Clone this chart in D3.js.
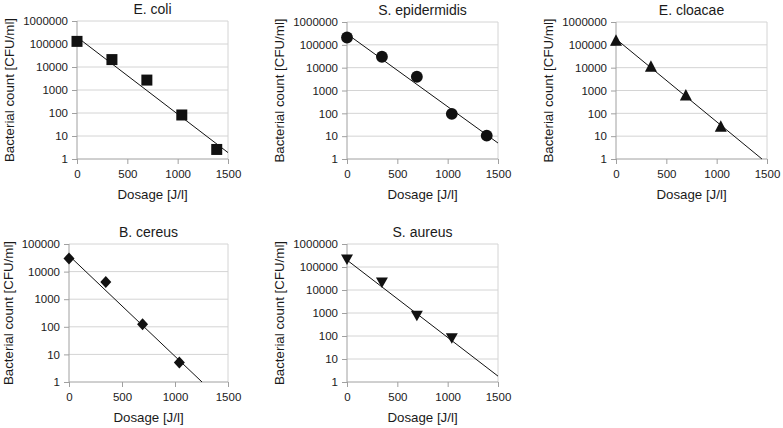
<!DOCTYPE html>
<html>
<head>
<meta charset="utf-8">
<script src="https://cdn.jsdelivr.net/npm/d3@7"></script>
<style>
  body { margin: 0; background: #fff; }
  text { font-family: "Liberation Sans", Arial, sans-serif; fill: #1a1a1a; }
</style>
</head>
<body>
<div id="chart"></div>
<script>
// doses used for every organism [J/l]
const dosage = [0, 347, 694, 1041, 1388];

// bacterial counts [CFU/ml]
const ecoli = [130000, 21000, 2700, 82, 2.6];
const sepidermidis = [210000, 30000, 4000, 95, 10.5];
const ecloacae = [150000, 11000, 600, 26];
const bcereus = [30000, 4200, 125, 5.1];
const saureus = [210000, 21000, 750, 80];

// exponential trend lines: [dose, count] at start and end
const ecoliTrend = [[0, 200000], [1500, 1.9]];
const sepidermidisTrend = [[0, 300000], [1500, 5]];
const ecloacaeTrend = [[0, 180000], [1450, 1]];
const bcereusTrend = [[0, 38000], [1255, 1]];
const saureusTrend = [[0, 200000], [1500, 1.8]];

const titles = ['E. coli', 'S. epidermidis', 'E. cloacae', 'B. cereus', 'S. aureus'];
const xTicks = [0, 500, 1000, 1500];
const yTicksBig = [1, 10, 100, 1000, 10000, 100000, 1000000];
const yTicksSmall = [1, 10, 100, 1000, 10000, 100000];

const width = 783;
const height = 428;

const svg = d3.select('#chart')
  .append('svg')
  .attr('width', width)
  .attr('height', height);

// plot rectangles of the five panels
const panels = [
  {title: titles[0], values: ecoli, trend: ecoliTrend, ticks: yTicksBig, marker: 'square',   box: {l: 77,  r: 228, t: 21,  b: 159}},
  {title: titles[1], values: sepidermidis, trend: sepidermidisTrend, ticks: yTicksBig, marker: 'circle', box: {l: 347, r: 498, t: 22, b: 159}},
  {title: titles[2], values: ecloacae, trend: ecloacaeTrend, ticks: yTicksBig, marker: 'triangle', box: {l: 616, r: 767, t: 22, b: 159}},
  {title: titles[3], values: bcereus, trend: bcereusTrend, ticks: yTicksSmall, marker: 'diamond', box: {l: 69,  r: 228, t: 244, b: 382}},
  {title: titles[4], values: saureus, trend: saureusTrend, ticks: yTicksBig, marker: 'down',     box: {l: 347, r: 498, t: 244, b: 382}}
];

const markers = {
  square: 'M-5.5,-5.5H5.5V5.5H-5.5Z',
  circle: d3.symbol(d3.symbolCircle, 110)(),
  triangle: 'M0,-6.5L6,5L-6,5Z',
  diamond: 'M0,-6L5.5,0L0,6L-5.5,0Z',
  down: 'M-6,-5L6,-5L0,5.5Z'
};

panels.forEach(p => {
  const b = p.box;
  const x = d3.scaleLinear().domain([0, 1500]).range([b.l, b.r]);
  const y = d3.scaleLog().domain([1, d3.max(p.ticks)]).range([b.b, b.t]);

  const g = svg.append('g');

  // horizontal grid
  g.selectAll('.grid')
    .data(p.ticks.slice(1))
    .enter().append('line')
      .attr('x1', b.l).attr('x2', b.r)
      .attr('y1', d => y(d)).attr('y2', d => y(d))
      .style('stroke', '#d4d4d4')
      .style('stroke-width', 1);

  // right border
  g.append('line')
    .attr('x1', b.r).attr('x2', b.r)
    .attr('y1', b.t).attr('y2', b.b)
    .style('stroke', '#d4d4d4');

  // y axis
  const yAxis = d3.axisLeft(y)
    .tickValues(p.ticks)
    .tickFormat(d3.format('d'))
    .tickSize(5)
    .tickPadding(4);
  const ya = g.append('g')
    .attr('transform', `translate(${b.l},0)`)
    .call(yAxis);

  // x axis
  const xAxis = d3.axisBottom(x)
    .tickValues(xTicks)
    .tickFormat(d3.format('d'))
    .tickSize(5)
    .tickPadding(6);
  const xa = g.append('g')
    .attr('transform', `translate(0,${b.b})`)
    .call(xAxis);

  [ya, xa].forEach(a => {
    a.select('.domain').attr('stroke', '#a0a0a0').attr('d',
      a === ya ? `M0,${b.b}V${b.t}` : `M${b.l},0H${b.r}`);
    a.selectAll('.tick line').attr('stroke', '#a0a0a0');
    a.selectAll('.tick text')
      .style('font-size', '11.5px')
      .style('fill', '#1a1a1a');
  });

  // trend line
  g.append('line')
    .attr('x1', x(p.trend[0][0])).attr('y1', y(p.trend[0][1]))
    .attr('x2', x(p.trend[1][0])).attr('y2', y(p.trend[1][1]))
    .style('stroke', '#111')
    .style('stroke-width', 1);

  // markers
  g.selectAll('.pt')
    .data(p.values)
    .enter().append('path')
      .attr('d', markers[p.marker])
      .attr('transform', (d, i) => `translate(${x(dosage[i])},${y(d)})`)
      .style('fill', '#111');

  // title
  g.append('text')
    .attr('x', (b.l + b.r) / 2)
    .attr('y', b.t - 7)
    .attr('text-anchor', 'middle')
    .style('font-size', '14px')
    .text(p.title);

  // x label
  g.append('text')
    .attr('x', (b.l + b.r) / 2)
    .attr('y', b.b + 40)
    .attr('text-anchor', 'middle')
    .style('font-size', '13.3px')
    .text('Dosage [J/l]');

  // y label
  const ylx = b.l - (p.ticks.length === 6 ? 56 : 63);
  g.append('text')
    .attr('transform', `translate(${ylx},${(b.t + b.b) / 2}) rotate(-90)`)
    .attr('text-anchor', 'middle')
    .style('font-size', '13.3px')
    .text('Bacterial count [CFU/ml]');
});
</script>
</body>
</html>
